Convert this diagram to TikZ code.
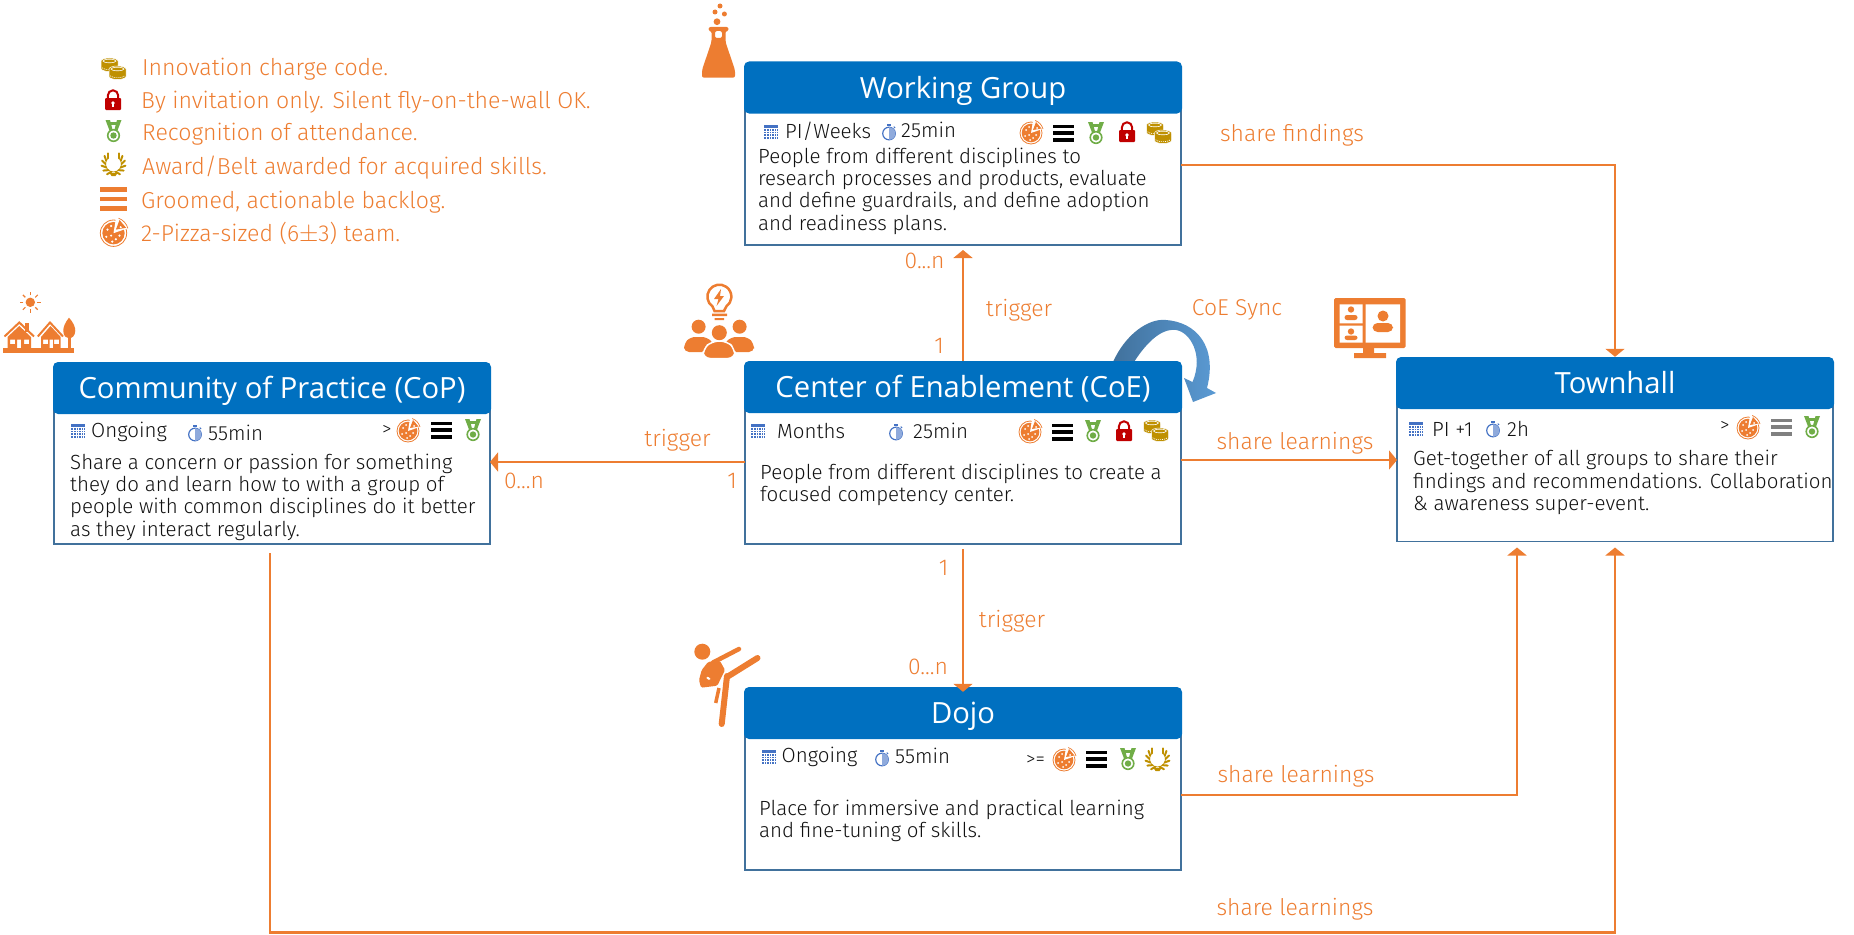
\documentclass[tikz,border=0pt]{standalone}
\usepackage{fontspec}
\usepackage{tikz}
\usetikzlibrary{arrows.meta, positioning}
\setmainfont{Fira Sans Light}
\newfontfamily\titlefont{Open Sans}
\definecolor{headblue}{HTML}{0070C0}
\definecolor{edgeblue}{HTML}{41719C}
\definecolor{syncblue}{HTML}{5B9BD5}
\definecolor{iconorange}{HTML}{ED7D31}
\definecolor{medalgreen}{HTML}{70AD47}
\definecolor{lockred}{HTML}{C00000}
\definecolor{coingold}{HTML}{BF9000}
\definecolor{calblue}{HTML}{4472C4}
\definecolor{textdark}{HTML}{111111}
\tikzset{
  pics/calendar/.style={code={
    \fill[calblue] (-7,-7) rectangle (7,7);
    \foreach \g in {-4.5,-2,0.5,3,5.5} {\draw[white, line width=0.4pt] (\g,-3.5) -- (\g,7);}
    \foreach \g in {-3.5,-1,1.5,4} {\draw[white, line width=0.4pt] (-7,\g) -- (7,\g);}
  }},
  pics/watch/.style={code={
    \draw[calblue, line width=1.2pt] (0,1.5) circle (6.3);
    \fill[calblue!60] (0,1.5) -- (0,-4.8) arc[start angle=-90, end angle=90, radius=6.3] -- cycle;
    \draw[calblue, line width=1.4pt] (-2,-7) -- (2,-7);
    \draw[calblue, line width=1pt] (4.8,-5.4) -- (6.1,-4);
  }},
  pics/pizza/.style={code={
    \draw[iconorange, line width=0.8pt] (0,1) circle (11);
    \fill[iconorange] (0,1) circle (9.3);
    \fill[white] (0,1) -- (-15:13) arc[start angle=-15, end angle=-80, radius=13] -- cycle;
    \fill[iconorange] (2,-2) -- (10.5,-3.5) -- (5,-10) -- cycle;
    \draw[iconorange, line width=0.7pt] (12,-3) arc[start angle=-15, end angle=-70, radius=12.5];
    \foreach \p in {(-5,-2),(-2,3),(-6,4),(2,6),(5,3),(-2,-5),(-1,8),(6,-4)} {\fill[white] \p circle (1);}
  }},
  pics/bars/.style={code={
    \fill[#1] (-10.5,-8.5) rectangle (10.5,-5);
    \fill[#1] (-10.5,-1.7) rectangle (10.5,1.7);
    \fill[#1] (-10.5,5) rectangle (10.5,8.5);
  }},
  pics/medal/.style={code={
    \fill[medalgreen] (-8,-11) -- (-3.5,-11) -- (-1,-1.5) -- (-4,-0.5) -- cycle;
    \fill[medalgreen] (8,-11) -- (3.5,-11) -- (1,-1.5) -- (4,-0.5) -- cycle;
    \fill[medalgreen] (-5,-9) rectangle (5,-6.5);
    \draw[medalgreen, line width=1.6pt, fill=white] (0,4.5) circle (5.8);
    \fill[medalgreen] (0,4.5) circle (3.2);
  }},
  pics/lock/.style={code={
    \draw[lockred, line width=2pt] (-5.2,0) -- (-5.2,-4.5) arc[start angle=180, end angle=360, radius=5.2] -- (5.2,0);
    \fill[lockred, rounded corners=1pt] (-8,-2) rectangle (8,10);
    \fill[white] (0,3) circle (1.9);
    \fill[white] (-0.7,3) rectangle (0.7,7);
  }},
  pics/coinstack/.style={code={
    \filldraw[fill=coingold, draw=white, line width=0.5pt] (-8.5,-4) -- (-8.5,3.5) arc[start angle=180, end angle=0, x radius=8.5, y radius=3] -- (8.5,-4) arc[start angle=0, end angle=-180, x radius=8.5, y radius=3] -- cycle;
    \draw[white, line width=0.6pt] (0,-4) ellipse [x radius=6.5, y radius=1.8];
    \draw[white, line width=0.7pt, dash pattern=on 1pt off 1pt] (-7.4,2.7) arc[start angle=170, end angle=10, x radius=7.5, y radius=2.4];
  }},
  pics/coins/.style={code={
    \pic at (-4,-4) {coinstack};
    \pic at (4,4) {coinstack};
  }},
  pics/wreath/.style={code={
    \foreach \s in {1,-1} {
      \begin{scope}[xscale=\s]
        \draw[coingold, line width=0.8pt] (0,8) arc[start angle=90, end angle=225, radius=8];
        \foreach \a in {105,130,155,180,205,225} {
          \draw[coingold, line width=2pt, line cap=round] (\a:8) -- ++(\a+45:5);
        }
      \end{scope}
    }
    \fill[coingold] (-4,9) -- (4,9) -- (2,12) -- (-2,12) -- cycle;
  }},
  box/.style={rectangle, draw=edgeblue, line width=1.5pt, fill=white, minimum width=436pt, inner sep=0pt, outer sep=0pt},
  head/.style={rectangle, rounded corners=5pt, fill=headblue, text=white, font={\titlefont\fontsize{29.2}{32}\selectfont}, minimum width=438pt, text height=36.5pt, text depth=15.5pt, inner sep=0pt, anchor=center},
  desc/.style={anchor=north west, align=left, inner sep=0pt, text=textdark, font=\fontsize{20.5}{22.4}\selectfont},
  meta/.style={anchor=west, inner sep=0pt, text=textdark, font=\fontsize{20.5}{22}\selectfont},
  more/.style={meta, font=\fontsize{19}{20}\selectfont},
  lbl/.style={inner sep=0pt, yshift=-1.5pt, text=iconorange, font=\fontsize{22.9}{24}\selectfont},
  legend/.style={anchor=west, inner sep=0pt, text=iconorange, font=\fontsize{23.1}{24}\selectfont},
  arr/.style={-{Triangle[length=8pt, width=19pt]}, line width=2.8pt, iconorange},
  iconfill/.style={fill=iconorange}
}
\begin{document}
\begin{tikzpicture}[x=1pt, y=-1pt]
\useasboundingbox (0,0) rectangle (1854,934);
\node[box, minimum height=157.5pt] (wg) at (963,166.25) {};
\node[head] (wghead) at (wg.north) {Working Group};
\node[box, minimum height=157pt] (coe) at (963,465.5) {};
\path[left color=edgeblue, right color=syncblue] (1113,362) .. controls (1125,335) and (1148,318) .. (1166,320) .. controls (1195,322) and (1218,345) .. (1207,388) -- (1216,393) -- (1193,402) -- (1184,378) -- (1192.5,382) .. controls (1204,355) and (1190,332) .. (1176,330) .. controls (1160,328) and (1145,345) .. (1134,362) -- cycle;
\node[head] (coehead) at (coe.north) {Center of Enablement (CoE)};
\node[box, minimum height=156pt] (cop) at (272,466) {};
\node[head] (cophead) at (cop.north) {Community of Practice (CoP)};
\node[box, minimum height=158.5pt] (town) at (1615,462.25) {};
\node[head] (townhead) at (town.north) {Townhall};
\node[box, minimum height=157pt] (dojo) at (963,791.5) {};
\node[head] (dojohead) at (dojo.north) {Dojo};

\draw[arr] ([yshift=1.25pt]wg.east) -| (townhead.north);
\draw[arr, shorten >=5pt] (coehead.north) -- (wg.south);
\draw[arr] ([yshift=3.5pt]coe.west) -- ([yshift=4pt]cop.east);
\draw[arr] ([yshift=5.5pt]coe.east) -- ([yshift=2.25pt]town.west);
\draw[arr, shorten <=5pt, shorten >=-5pt] (coe.south) -- (dojohead.north);
\draw[arr, shorten >=6pt] ([yshift=-3.5pt]dojo.east) -| ([xshift=-98pt]town.south);
\coordinate (lowrun) at (1000,932.5);
\draw[arr, shorten <=9pt, shorten >=6pt] ([xshift=-2pt]cop.south) |- (lowrun) -| (town.south);

\node[lbl] (lblfind) at (1292,134) {share findings};
\node[lbl] (lblwgn) at (924.6,259) {0...n};
\node[lbl] (lbltrigup) at (1019,309) {trigger};
\node[lbl] (lblsync) at (1237,308) {CoE Sync};
\node[lbl] (lblone) at (939,344) {1};
\node[lbl] (lbltrigleft) at (677.5,439) {trigger};
\node[lbl] (lblcopn) at (524,479) {0...n};
\node[lbl] (lbloneleft) at (732,479) {1};
\node[lbl] (lbllearn) at (1295,442) {share learnings};
\node[lbl] (lblonedown) at (943.5,566) {1};
\node[lbl] (lbltrigdown) at (1012,620) {trigger};
\node[lbl] (lbldojon) at (928,665) {0...n};
\node[lbl] (lbldojo) at (1296,775) {share learnings};
\node[lbl] (lblcop) at (1295,908) {share learnings};

\pic at (113.5,69) {coins};
\pic at (113,100) {lock};
\pic at (113.5,131) {medal};
\pic at (113.5,164) {wreath};
\pic[xscale=1.24, yscale=1.38] at (113.5,199) {bars=iconorange};
\pic[scale=1.2] at (113.5,232) {pizza};
\node[legend] (leginno) at (142,69) {Innovation charge code.};
\node[legend] (leginv) at (141,102) {By invitation only. Silent fly-on-the-wall OK.};
\node[legend] (legrec) at (142,134) {Recognition of attendance.};
\node[legend] (legaward) at (142,168) {Award/Belt awarded for acquired skills.};
\node[legend] (leggroom) at (141,202) {Groomed, actionable backlog.};
\node[legend] (legpizza) at (141,233) {2-Pizza-sized (6$\pm$3) team.};

\pic at (771,132) {calendar};
\node[meta] (wgcycle) at (785,131) {PI/Weeks};
\pic at (889,132) {watch};
\node[meta] (wgtime) at (901,130) {25min};
\pic at (1031,132) {pizza};
\pic at (1063,133) {bars=black};
\pic at (1096,133) {medal};
\pic at (1127,132) {lock};
\pic at (1159,133) {coins};
\node[desc] (wgtext) at (758,147.5) {People from different disciplines to\\research processes and products, evaluate\\and define guardrails, and define adoption\\and readiness plans.};

\pic at (758,431) {calendar};
\node[meta] (coecycle) at (777,431) {Months};
\pic at (896,432) {watch};
\node[meta] (coetime) at (913,431) {25min};
\pic at (1030,431) {pizza};
\pic at (1062,432) {bars=black};
\pic at (1093,431) {medal};
\pic at (1124,431) {lock};
\pic at (1156,431) {coins};
\node[desc] (coetext) at (760,463.5) {People from different disciplines to create a\\focused competency center.};

\pic at (78,431) {calendar};
\node[meta] (copcycle) at (91,432) {Ongoing};
\pic at (195,433) {watch};
\node[meta] (coptime) at (208,433) {55min};
\node[more] (copmore) at (382,430) {>};
\pic at (408,430) {pizza};
\pic at (441,430) {bars=black};
\pic at (473,430) {medal};
\node[desc] (coptext) at (70,453.5) {Share a concern or passion for something\\they do and learn how to with a group of\\people with common disciplines do it better\\as they interact regularly.};

\pic at (1416,429) {calendar};
\node[meta] (towncycle) at (1432,429) {PI +1};
\pic at (1493,429) {watch};
\node[meta] (towntime) at (1507,429) {2h};
\node[more] (townmore) at (1720,426) {>};
\pic at (1748,427) {pizza};
\pic at (1781,427) {bars=gray};
\pic at (1812,427) {medal};
\node[desc] (towntext) at (1413,450) {Get-together of all groups to share their\\findings and recommendations. Collaboration\\\& awareness super-event.};

\pic at (768.5,757) {calendar};
\node[meta] (dojocycle) at (781.5,757) {Ongoing};
\pic at (882,758) {watch};
\node[meta] (dojotime) at (895,756) {55min};
\node[more] (dojomore) at (1026,760) {>=};
\pic at (1064,759) {pizza};
\pic at (1096,759) {bars=black};
\pic at (1128,759) {medal};
\pic at (1157.5,759) {wreath};
\node[desc] (dojotext) at (759,799.5) {Place for immersive and practical learning\\and fine-tuning of skills.};

\fill[iconfill] (720,6) circle (2.5) (715,12) circle (2.5) (724.4,14) circle (2.5) (717,21.7) circle (3.4);
\fill[iconfill, rounded corners=2pt, even odd rule] (708.6,27) -- (728.5,27) -- (728.5,31) -- (725.5,31) -- (725.5,42) -- (735,70) -- (735,77.7) -- (702,77.7) -- (702,70) -- (711.5,42) -- (711.5,31) -- (708.6,31) -- cycle (715,31) rectangle (722,38);

\draw[iconorange, line width=2.5pt] (712.5,306.5) arc[start angle=125, end angle=415, radius=12] -- (724,311) -- (714.5,311) -- cycle;
\fill[iconfill] (712,313.5) rectangle (727,316) (714.5,318) rectangle (724,320);
\fill[iconfill] (721,289) -- (714,299) -- (718.5,299) -- (716.5,306) -- (724,296) -- (720,296) -- cycle;
\fill[iconfill] (698.6,326.7) circle (7) (739.6,326.7) circle (7);
\fill[iconfill, rounded corners=5pt] (684,352) -- (684,344) -- (690,337) -- (707,337) -- (714,344) -- (714,352) -- cycle;
\fill[iconfill, rounded corners=5pt] (724,352) -- (724,344) -- (731,337) -- (748,337) -- (754,344) -- (754,352) -- cycle;
\fill[white] (719.3,332.7) circle (9.5);
\filldraw[fill=iconorange, draw=white, line width=1.5pt, rounded corners=7pt] (703,358.5) -- (703,349) -- (712,341) -- (727,341) -- (735,349) -- (735,358.5) -- cycle;
\fill[iconfill] (719.3,332.7) circle (7.5);

\fill[iconfill, rounded corners=1.5pt] (1334,298) rectangle (1405.7,348);
\fill[iconfill] (1363,348) rectangle (1374,353) (1354,353) rectangle (1386,358);
\fill[white] (1339.7,304.3) rectangle (1362.7,323.3) (1339.7,325.7) rectangle (1362.7,342.7) (1365.7,304.3) rectangle (1400,342.7);
\fill[iconfill] (1351,309.5) circle (3.2) (1351,331.5) circle (3.2) (1383,316) circle (5.5);
\fill[iconfill, rounded corners=2.5pt] (1344.5,320) -- (1344.5,315) -- (1357.5,315) -- (1357.5,320) -- cycle;
\fill[iconfill, rounded corners=2.5pt] (1344.5,340) -- (1344.5,335.5) -- (1357.5,335.5) -- (1357.5,340) -- cycle;
\fill[iconfill, rounded corners=5pt] (1372.5,332) -- (1372.5,323) -- (1393,323) -- (1393,332) -- cycle;

\fill[iconfill] (702.3,651.7) circle (8);
\draw[iconorange, line width=4.5pt, line cap=round] (713,662.5) -- (739,649);
\fill[iconfill, rounded corners=1.5pt, even odd rule] (708.3,661.7) -- (720,661) -- (725,670) -- (717.3,685.7) -- (701,687.7) -- (699,680) -- (701.7,670) -- cycle (706.7,675.7) -- (711.7,679.3) -- (706.7,680) -- cycle;
\draw[iconorange, line width=6pt, line cap=round] (727,677) -- (757.5,658);
\draw[iconorange, line width=6pt, line cap=round] (727,676) -- (721.7,724);
\draw[iconorange, line width=3.5pt] (719,688) -- (715.7,703);

\fill[iconfill] (30.3,302.3) circle (4.7);
\foreach \a in {0,45,...,315} {\draw[iconorange, line width=1.2pt] (30.3,302.3) ++(\a:7) -- ++(\a:3.5);}
\fill[iconfill] (3.3,347.7) rectangle (74,353);
\fill[iconfill] (25,323) rectangle (28.5,332);
\draw[iconorange, line width=2pt] (4.5,336.5) -- (19.3,322.5) -- (34,336.5);
\draw[iconorange, line width=2pt] (37.8,336.5) -- (50,322.5) -- (63,336.5);
\fill[iconfill, even odd rule] (7.5,337) -- (19.3,326) -- (31,337) -- (31,348) -- (7.5,348) -- cycle (10,339.5) rectangle (15,344) (24,339.5) rectangle (29,344) (17,339.5) rectangle (21,348);
\fill[iconfill, even odd rule] (41,337) -- (50.5,326) -- (60.7,337) -- (60.7,348) -- (41,348) -- cycle (43,339.5) rectangle (48,344) (54,339.5) rectangle (59,344) (49.5,339.5) rectangle (53,348);
\fill[iconfill] (69,317.7) .. controls (73,322) and (75.5,327) .. (75.3,331) .. controls (75,336) and (72,338.3) .. (69,338.3) .. controls (66,338.3) and (63.5,336) .. (63.3,331) .. controls (63,327) and (65.5,322) .. (69,317.7) -- cycle;
\fill[iconfill] (67.7,338) rectangle (70.7,348);
\end{tikzpicture}
\end{document}
